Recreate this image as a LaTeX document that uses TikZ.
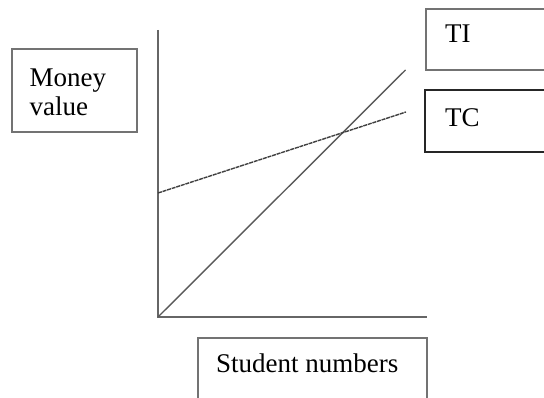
\documentclass[tikz,border=0pt]{standalone}
\usepackage{fontspec}
\setmainfont{Liberation Serif}
\begin{document}
\begin{tikzpicture}[x=1pt,y=1pt,
  graybox/.style={draw=black!55,line width=1.2pt,rectangle,inner sep=0pt},
  darkbox/.style={draw=black!85,line width=1.2pt,rectangle,inner sep=0pt},
  lbl/.style={anchor=base west,inner sep=0pt,font=\fontsize{27}{32}\selectfont},
  axis/.style={draw=black!60,line width=1.3pt},
  curve/.style={draw=black!65,line width=1.4pt}]
\useasboundingbox (0,0) rectangle (544,398);
\clip (0,0) rectangle (544,398);
% boxes
\node[graybox,minimum width=125pt,minimum height=83pt] (mbox) at (74.5,307.5) {};
\node[graybox,minimum width=134pt,minimum height=61pt] (tibox) at (493,358.5) {};
\node[darkbox,minimum width=135pt,minimum height=62pt] (tcbox) at (492.5,277) {};
\node[graybox,minimum width=229pt,minimum height=80pt] (sbox) at (312.5,20) {};
% labels
\node[lbl] (money) at (29.5,311) {Money};
\node[lbl] (value) at (29.5,282) {value};
\node[lbl] (ti) at (445,355) {TI};
\node[lbl] (tc) at (445,271) {TC};
\node[lbl] (sn) at (216,25) {Student numbers};
% axes
\coordinate (O) at (158,81);
\coordinate (ytop) at (158,368);
\coordinate (xend) at (427,81);
\coordinate (tiend) at (405.5,328);
\coordinate (tcstart) at (158,205);
\coordinate (tcend) at (406,286);
\draw[axis] (ytop) -- (O) -- (xend);
\draw[curve] (O) -- (tiend);
\draw[curve,draw=black!75,dash pattern=on 4pt off 0.8pt] (tcstart) -- (tcend);
\end{tikzpicture}
\end{document}
